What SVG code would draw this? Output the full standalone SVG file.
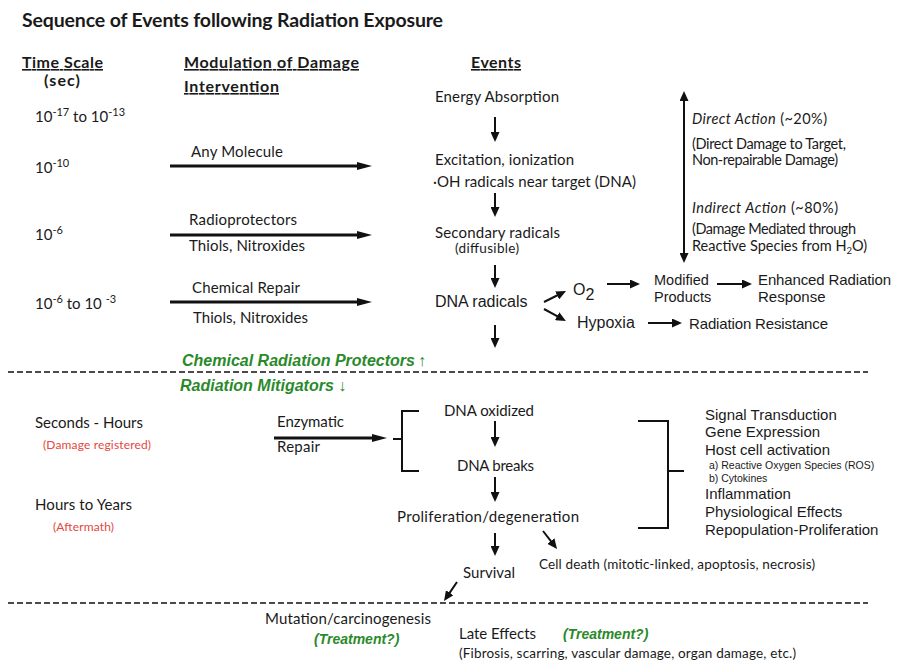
<svg xmlns="http://www.w3.org/2000/svg" width="898" height="663" viewBox="0 0 898 663">
<style>
.c{font-family:Lato,"Open Sans","Liberation Sans",sans-serif;font-size:15px;fill:#1a1a1a}
.cs{font-family:Lato,"Open Sans","Liberation Sans",sans-serif;font-size:13.5px;fill:#1a1a1a}
.ca{font-family:Lato,"Open Sans","Liberation Sans",sans-serif;font-size:14.5px;fill:#1a1a1a}
.b{font-weight:bold}
.u{text-decoration:underline}
.sup{font-size:11px}
.h{font-family:"Liberation Sans",Arial,sans-serif;font-size:15px;fill:#1a1a1a}
.h16{font-family:"Liberation Sans",Arial,sans-serif;font-size:16px;fill:#1a1a1a}
.hs{font-family:"Liberation Sans",Arial,sans-serif;font-size:10.5px;fill:#1a1a1a}
.g{font-family:"Liberation Sans",Arial,sans-serif;font-weight:bold;font-style:italic;fill:#2a8a2a}
.r{font-family:Lato,"Open Sans","Liberation Sans",sans-serif;font-size:12px;fill:#e5463f}
.ln{stroke:#111;stroke-width:2;fill:none}
.thk{stroke:#111;stroke-width:3;fill:none}
.dash{stroke:#111;stroke-width:1.5;stroke-dasharray:6 3;fill:none}
</style>
<defs>
<marker id="a" viewBox="0 0 10 9" refX="1" refY="4.5" markerWidth="10" markerHeight="9" markerUnits="userSpaceOnUse" orient="auto-start-reverse"><path d="M0,0 L10,4.5 L0,9 z" fill="#111"/></marker>
<marker id="bh" viewBox="0 0 15 8" refX="1" refY="4" markerWidth="15" markerHeight="8" markerUnits="userSpaceOnUse" orient="auto"><path d="M0,0 L15,4 L0,8 z" fill="#111"/></marker>
</defs>
<rect width="898" height="663" fill="#fff"/>

<g id="title"><text class="c b" x="22" y="27" style="font-size:19.5px" textLength="421">Sequence of Events following Radiation Exposure</text></g>

<g id="headers">
<text class="c b u" x="22" y="68" style="font-size:16px" textLength="81">Time Scale</text>
<text class="c b" x="44" y="86" style="font-size:16px" textLength="36">(sec)</text>
<text class="c b u" x="184" y="68" style="font-size:16px" textLength="175">Modulation of Damage</text>
<text class="c b u" x="184" y="92" style="font-size:16px" textLength="95">Intervention</text>
<text class="c b u" x="471" y="68" style="font-size:16px" textLength="50">Events</text>
</g>

<g id="timescale">
<text class="c" x="35" y="122">10<tspan class="sup" dy="-6">-17</tspan><tspan dy="6"> to 10</tspan><tspan class="sup" dy="-6">-13</tspan></text>
<text class="c" x="35" y="173">10<tspan class="sup" dy="-6">-10</tspan></text>
<text class="c" x="35" y="240">10<tspan class="sup" dy="-6">-6</tspan></text>
<text class="c" x="35" y="309">10<tspan class="sup" dy="-6">-6</tspan><tspan dy="6"> to 10 </tspan><tspan class="sup" dy="-6">-3</tspan></text>
<text class="c" x="35" y="428" textLength="108">Seconds - Hours</text>
<text class="r" x="43" y="449" textLength="108">(Damage registered)</text>
<text class="c" x="35" y="510" textLength="97">Hours to Years</text>
<text class="r" x="53" y="531" textLength="61">(Aftermath)</text>
</g>

<g id="modulation">
<text class="c" x="191" y="157" textLength="92">Any Molecule</text>
<text class="c" x="189" y="225" textLength="108">Radioprotectors</text>
<text class="c" x="189" y="251" textLength="116">Thiols, Nitroxides</text>
<text class="c" x="192" y="293" textLength="108">Chemical Repair</text>
<text class="c" x="193" y="323" textLength="115">Thiols, Nitroxides</text>
<text class="c" x="277" y="427" textLength="67">Enzymatic</text>
<text class="c" x="277" y="452" textLength="43">Repair</text>
</g>

<g id="n-energy"><text class="c" x="435" y="102" textLength="124">Energy Absorption</text></g>
<g id="n-excitation">
<text class="c" x="435" y="165" textLength="139">Excitation, ionization</text>
<text class="c" x="433" y="187" textLength="203">·OH radicals near target (DNA)</text>
</g>
<g id="n-secondary">
<text class="c" x="435" y="238" textLength="125">Secondary radicals</text>
<text class="cs" x="455" y="253" textLength="64">(diffusible)</text>
</g>
<g id="n-dnaradicals"><text class="h16" x="435" y="307">DNA radicals</text></g>
<g id="n-o2"><text class="h16" x="573" y="295">O<tspan dy="5" style="font-size:16px">2</tspan></text></g>
<g id="n-hypoxia"><text class="h16" x="577" y="328">Hypoxia</text></g>
<g id="n-modified"><text class="h" x="654" y="285" style="font-size:14.5px">Modified</text><text class="h" x="654" y="302" style="font-size:14.5px">Products</text></g>
<g id="n-enhanced"><text class="h" x="758" y="285" textLength="133">Enhanced Radiation</text><text class="h" x="758" y="302">Response</text></g>
<g id="n-resistance"><text class="h" x="689" y="329" textLength="139">Radiation Resistance</text></g>

<g id="n-action">
<text class="ca" x="692" y="124" textLength="135"><tspan font-style="italic">Direct Action</tspan> (~20%)</text>
<text class="ca" x="692" y="149" textLength="154">(Direct Damage to Target,</text>
<text class="ca" x="692" y="165" textLength="146">Non-repairable Damage)</text>
<text class="ca" x="692" y="213" textLength="146"><tspan font-style="italic">Indirect Action</tspan> (~80%)</text>
<text class="ca" x="692" y="234" textLength="164">(Damage Mediated through</text>
<text class="ca" x="692" y="251">Reactive Species from H<tspan dy="3" style="font-size:9.5px">2</tspan><tspan dy="-3">O)</tspan></text>
</g>

<g id="protectors">
<text class="g" x="182" y="366" style="font-size:16px">Chemical Radiation Protectors<tspan font-weight="normal" font-style="normal" dx="3">↑</tspan></text>
<text class="g" x="180" y="391" style="font-size:16px">Radiation Mitigators <tspan font-weight="normal" font-style="normal">↓</tspan></text>
</g>

<g id="n-dnaoxidized"><text class="c" x="444" y="416" textLength="90">DNA oxidized</text></g>
<g id="n-dnabreaks"><text class="c" x="457" y="471" textLength="77">DNA breaks</text></g>
<g id="n-proliferation"><text class="c" x="397" y="522" textLength="182">Proliferation/degeneration</text></g>
<g id="n-survival"><text class="c" x="463" y="578" textLength="52">Survival</text></g>
<g id="n-celldeath"><text class="cs" x="539" y="569" textLength="276">Cell death (mitotic-linked, apoptosis, necrosis)</text></g>

<g id="n-effects">
<text class="h" x="705" y="420">Signal Transduction</text>
<text class="h" x="705" y="437">Gene Expression</text>
<text class="h" x="705" y="455">Host cell activation</text>
<text class="hs" x="709" y="469">a) Reactive Oxygen Species (ROS)</text>
<text class="hs" x="709" y="482">b) Cytokines</text>
<text class="h" x="705" y="499">Inflammation</text>
<text class="h" x="705" y="517">Physiological Effects</text>
<text class="h" x="705" y="535">Repopulation-Proliferation</text>
</g>

<g id="n-mutation">
<text class="c" x="265" y="624" textLength="166">Mutation/carcinogenesis</text>
<text class="g" x="314" y="644" style="font-size:14px">(Treatment?)</text>
</g>
<g id="n-late">
<text class="c" x="459" y="639" textLength="77">Late Effects</text>
<text class="g" x="563" y="639" style="font-size:14px">(Treatment?)</text>
<text class="cs" x="459" y="658" textLength="337">(Fibrosis, scarring, vascular damage, organ damage, etc.)</text>
</g>

<g id="connectors">
<line class="dash" x1="8" y1="372" x2="868" y2="372"/>
<line class="dash" x1="8" y1="603" x2="868" y2="603"/>
<line class="thk" x1="170" y1="166" x2="358" y2="166" marker-end="url(#bh)"/>
<line class="thk" x1="170" y1="235" x2="358" y2="235" marker-end="url(#bh)"/>
<line class="thk" x1="170" y1="302" x2="358" y2="302" marker-end="url(#bh)"/>
<line class="thk" x1="274" y1="438" x2="373" y2="438" marker-end="url(#bh)"/>
<line class="ln" x1="495" y1="117" x2="495" y2="133" marker-end="url(#a)"/>
<line class="ln" x1="495" y1="193" x2="495" y2="208" marker-end="url(#a)"/>
<line class="ln" x1="495" y1="265" x2="495" y2="279" marker-end="url(#a)"/>
<line class="ln" x1="495" y1="325" x2="495" y2="339" marker-end="url(#a)"/>
<line class="ln" x1="495" y1="421" x2="495" y2="438" marker-end="url(#a)"/>
<line class="ln" x1="495" y1="477" x2="495" y2="493" marker-end="url(#a)"/>
<line class="ln" x1="495" y1="533" x2="495" y2="547" marker-end="url(#a)"/>
<line class="ln" x1="544" y1="302" x2="558" y2="295" marker-end="url(#a)"/>
<line class="ln" x1="544" y1="309" x2="558" y2="316.7" marker-end="url(#a)"/>
<line class="ln" x1="607" y1="284" x2="631" y2="284" marker-end="url(#a)"/>
<line class="ln" x1="717" y1="284" x2="743" y2="284" marker-end="url(#a)"/>
<line class="ln" x1="648" y1="323" x2="673" y2="323" marker-end="url(#a)"/>
<line class="ln" x1="684" y1="100" x2="684" y2="254" marker-start="url(#a)" marker-end="url(#a)"/>
<line class="ln" x1="543" y1="531" x2="551.5" y2="541.9" marker-end="url(#a)"/>
<line class="ln" x1="457" y1="582" x2="449.1" y2="593.6" marker-end="url(#a)"/>
<path class="ln" d="M419,411 H402 V471 H419 M393,439 H402"/>
<path class="ln" d="M638,421 H668 V528 H638 M668,471 H684"/>
</g>
</svg>
